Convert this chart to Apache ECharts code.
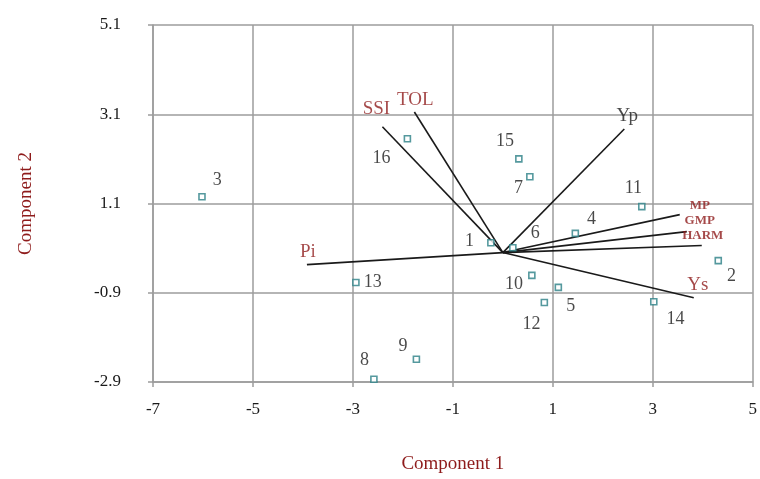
<!DOCTYPE html>
<html>
<head>
<meta charset="utf-8">
<script src="https://cdn.jsdelivr.net/npm/echarts@6/dist/echarts.min.js"></script>
<style>html,body{margin:0;padding:0;background:#fff}#c{width:760px;height:479px}</style>
</head>
<body>
<div id="c"></div>
<script>
// Genotype scores (points)
const pointNames = ['1','2','3','4','5','6','7','8','9','10','11','12','13','14','15','16'];
const pointX = [-0.24, 4.31, -6.02, 1.45, 1.11, 0.20, 0.54, -2.58, -1.73, 0.58, 2.78, 0.83, -2.94, 3.02, 0.32, -1.91];
const pointY = [0.22, -0.18, 1.25, 0.43, -0.78, 0.11, 1.70, -2.84, -2.39, -0.51, 1.03, -1.12, -0.67, -1.10, 2.10, 2.55];

// Variable vectors (loadings), drawn from origin
const vecNames = ['TOL', 'SSI', 'Yp', 'Pi', 'Ys', 'MP', 'GMP', 'HARM'];
const vecX = [-1.77, -2.41, 2.43, -3.92, 3.82, 3.54, 3.68, 3.98];
const vecY = [3.15, 2.82, 2.77, -0.27, -1.01, 0.85, 0.47, 0.16];
const originX = 0, originY = 0;

// Axis tick labels
const xTickLabels = ['-7', '-5', '-3', '-1', '1', '3', '5'];
const yTickLabels = ['-2.9', '-0.9', '1.1', '3.1', '5.1'];
const xMin = -7, xMax = 5, yMin = -2.9, yMax = 5.1;

// label placement (layout only)
const pointLabelPos = {
  '1': ['left', [-10, -2]], '2': ['right', [2, 16]], '3': ['right', [4, -17]], '4': ['right', [5, -14]],
  '5': ['right', [1, 19]], '6': ['right', [11, -14]], '7': ['left', [0, 12]], '8': ['left', [2, -19]],
  '9': ['left', [-2, -13]], '10': ['left', [-2, 9]], '11': ['left', [7, -18]], '12': ['left', [3, 22]],
  '13': ['right', [1, 0]], '14': ['right', [6, 18]], '15': ['left', [2, -18]], '16': ['left', [-10, 19]]
};
const vecLabelStyle = {
  TOL: { off: [1, 2], size: 19, color: 'red' }, SSI: { off: [-6, -3], size: 19, color: 'red' },
  Yp: { off: [3, 2], size: 19, color: 'black' }, Pi: { off: [1, 2], size: 19, color: 'red' },
  Ys: { off: [4, 2], size: 19, color: 'red' }, MP: { off: [20, 2], size: 13, color: 'red' },
  GMP: { off: [13, 1], size: 13, color: 'red' }, HARM: { off: [1, 2], size: 13, color: 'red' }
};

const serif = '"Liberation Serif", "DejaVu Serif", serif';
const darkRed = '#8e1b1b';
const textBlack = '#1a1a1a';
const gridColor = '#9c9c9c';

const series = [];
vecNames.forEach((n, i) => {
  series.push({
    type: 'line', xAxisIndex: 0, yAxisIndex: 0,
    data: [[originX, originY], [vecX[i], vecY[i]]],
    symbol: 'none', silent: true,
    lineStyle: { color: '#1a1a1a', width: 1.6 }, z: 3
  });
});
series.push({
  type: 'scatter', xAxisIndex: 0, yAxisIndex: 0,
  data: vecNames.map((n, i) => {
    const s = vecLabelStyle[n];
    const small = s.size < 15;
    return {
      value: [vecX[i], vecY[i]], name: n,
      label: { show: true, formatter: n, position: 'top', offset: s.off, fontSize: s.size,
        fontWeight: small ? 'bold' : 'normal',
        color: s.color === 'red' ? darkRed : textBlack, fontFamily: serif }
    };
  }),
  symbolSize: 0, silent: true, z: 4
});
series.push({
  type: 'scatter', xAxisIndex: 0, yAxisIndex: 0,
  data: pointNames.map((n, i) => ({
    value: [pointX[i], pointY[i]], name: n,
    label: { show: true, formatter: n, position: pointLabelPos[n][0], offset: pointLabelPos[n][1],
      fontSize: 18, color: textBlack, fontFamily: serif, distance: 3 }
  })),
  symbol: 'rect', symbolSize: 6,
  itemStyle: { color: '#ffffff', borderColor: '#2a7f86', borderWidth: 1.6 },
  z: 5
});

const chart = echarts.init(document.getElementById('c'), null, { renderer: 'canvas' });
chart.setOption({
  animation: false,
  backgroundColor: '#ffffff',
  grid: { left: 153, right: 5, top: 25, bottom: 95, containLabel: false },
  xAxis: [
    { type: 'value', min: xMin, max: xMax, show: false },
    {
      type: 'value', min: 0, max: (xTickLabels.length - 1) * 2, interval: 2, position: 'bottom',
      name: 'Component 1', nameLocation: 'middle', nameGap: 73,
      nameTextStyle: { color: darkRed, fontSize: 19, fontFamily: serif },
      axisLine: { show: true, lineStyle: { color: gridColor, width: 1.5 } },
      axisTick: { show: true, length: 5, lineStyle: { color: gridColor, width: 1.5 } },
      axisLabel: { formatter: v => xTickLabels[Math.round(v / 2)], margin: 19, color: textBlack, fontSize: 17, fontFamily: serif },
      splitLine: { show: true, lineStyle: { color: gridColor, width: 1.5 } }
    }
  ],
  yAxis: [
    { type: 'value', min: yMin, max: yMax, show: false },
    {
      type: 'value', min: 0, max: (yTickLabels.length - 1) * 2, interval: 2, position: 'left',
      name: 'Component 2', nameLocation: 'middle', nameGap: 117, nameRotate: 90,
      nameTextStyle: { color: darkRed, fontSize: 19, fontFamily: serif },
      axisLine: { show: true, lineStyle: { color: gridColor, width: 1.5 } },
      axisTick: { show: true, length: 5, lineStyle: { color: gridColor, width: 1.5 } },
      axisLabel: { formatter: v => yTickLabels[Math.round(v / 2)], margin: 32, color: textBlack, fontSize: 17, fontFamily: serif },
      splitLine: { show: true, lineStyle: { color: gridColor, width: 1.5 } }
    }
  ],
  series: series
});
</script>
</body>
</html>
